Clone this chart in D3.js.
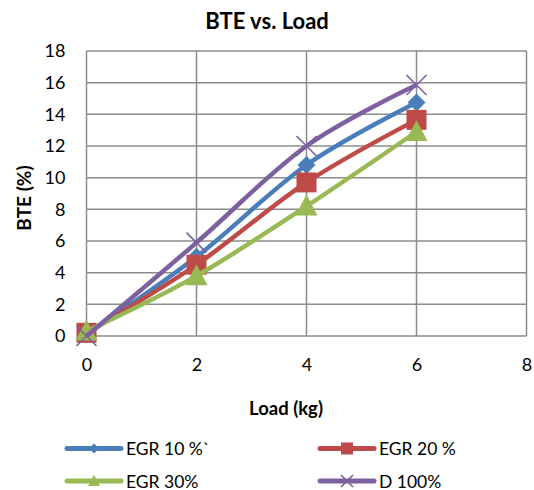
<!DOCTYPE html>
<html lang="en">
<head>
<meta charset="UTF-8" />
<title>BTE vs. Load</title>
<style>
  body { margin: 0; background: #fff; font-family: Lato, "Open Sans", sans-serif; }
  .tick text { font-size: 18px; fill: #000; }
</style>
</head>
<body>
<svg id="chart" width="534" height="490"></svg>
<script src="https://d3js.org/d3.v7.min.js"></script>
<script>
  // data
  const loads = [0, 2, 4, 6];
  const egr10 = [0.1, 5.0, 10.8, 14.75];
  const egr20 = [0.2, 4.5, 9.7, 13.65];
  const egr30 = [0.3, 3.8, 8.2, 12.9];
  const d100 = [0.0, 5.9, 12.0, 15.85];
  const seriesNames = ["EGR 10 %`", "EGR 20 %", "EGR 30%", "D 100%"];
  const xTicks = [0, 2, 4, 6, 8];
  const yTicks = [0, 2, 4, 6, 8, 10, 12, 14, 16, 18];

  const series = [
    { name: seriesNames[0], values: egr10, color: "#4a7ebb", marker: "diamond" },
    { name: seriesNames[1], values: egr20, color: "#be4b48", marker: "square" },
    { name: seriesNames[2], values: egr30, color: "#98b954", marker: "triangle" },
    { name: seriesNames[3], values: d100, color: "#7d60a0", marker: "x" }
  ];

  const svg = d3.select("#chart");
  const x = d3.scaleLinear().domain([0, 8]).range([86.5, 526.5]);
  const y = d3.scaleLinear().domain([0, 18]).range([336, 51]);

  // grid
  svg.append("g").selectAll("line").data(yTicks).enter().append("line")
    .attr("x1", x(0)).attr("x2", x(8))
    .attr("y1", d => y(d)).attr("y2", d => y(d))
    .attr("stroke", "#8c8c8c").attr("stroke-width", 1.5);
  svg.append("g").selectAll("line").data(xTicks).enter().append("line")
    .attr("x1", d => x(d)).attr("x2", d => x(d))
    .attr("y1", y(0)).attr("y2", y(18))
    .attr("stroke", "#8c8c8c").attr("stroke-width", 1.5);

  // axes (labels only)
  svg.append("g").attr("transform", `translate(0,${y(0)})`)
    .call(d3.axisBottom(x).tickValues(xTicks).tickSize(0).tickPadding(22));
  svg.append("g").attr("transform", `translate(${x(0)},0)`)
    .call(d3.axisLeft(y).tickValues(yTicks).tickSize(0).tickPadding(21));
  svg.selectAll(".domain").remove();
  svg.selectAll(".tick text").style("font-family", "Lato, 'Open Sans', sans-serif");

  // markers
  function drawMarker(g, type, color, cx, cy, s) {
    if (type === "diamond") {
      g.append("path").attr("d", `M${cx},${cy - s}L${cx + s},${cy}L${cx},${cy + s}L${cx - s},${cy}Z`).attr("fill", color);
    } else if (type === "square") {
      g.append("rect").attr("x", cx - s).attr("y", cy - s).attr("width", 2 * s).attr("height", 2 * s).attr("fill", color);
    } else if (type === "triangle") {
      g.append("path").attr("d", `M${cx},${cy - s * 1.05}L${cx + s},${cy + s * 0.85}L${cx - s},${cy + s * 0.85}Z`).attr("fill", color);
    } else {
      g.append("path").attr("d", `M${cx - s},${cy - s}L${cx + s},${cy + s}M${cx + s},${cy - s}L${cx - s},${cy + s}`)
        .attr("stroke", color).attr("stroke-width", 1.6).attr("fill", "none");
    }
  }
  const markerSize = { diamond: 9, square: 10, triangle: 11, x: 10 };

  const line = d3.line()
    .x((d, i) => x(loads[i]))
    .y(d => y(d))
    .curve(d3.curveCardinal.tension(0));

  series.forEach(s => {
    const g = svg.append("g");
    g.append("path").attr("d", line(s.values))
      .attr("fill", "none").attr("stroke", s.color).attr("stroke-width", 4.5)
      .attr("stroke-linejoin", "round");
    s.values.forEach((v, i) => drawMarker(g, s.marker, s.color, x(loads[i]), y(v), markerSize[s.marker]));
  });

  // titles
  svg.append("text").attr("x", 267).attr("y", 28.5).attr("text-anchor", "middle")
    .attr("font-size", 22).attr("font-weight", "bold").text("BTE vs. Load");
  svg.append("text").attr("transform", "translate(31,198) rotate(-90)").attr("text-anchor", "middle")
    .attr("font-size", 19).attr("font-weight", "bold").text("BTE (%)");
  svg.append("text").attr("x", 286).attr("y", 415).attr("text-anchor", "middle")
    .attr("font-size", 18.5).attr("font-weight", "bold").text("Load (kg)");

  // legend
  const legendPos = [[67, 448.5], [320, 448.5], [67, 481], [320, 481]];
  series.forEach((s, i) => {
    const [lx, ly] = legendPos[i];
    const g = svg.append("g");
    g.append("line").attr("x1", lx).attr("x2", lx + 54).attr("y1", ly).attr("y2", ly)
      .attr("stroke", s.color).attr("stroke-width", 5).attr("stroke-linecap", "round");
    drawMarker(g, s.marker, s.color, lx + 27, ly, s.marker === "diamond" ? 5 : 6);
    g.append("text").attr("x", lx + 59).attr("y", ly + 6.5).attr("font-size", 17.5).text(s.name);
  });
</script>
</body>
</html>
